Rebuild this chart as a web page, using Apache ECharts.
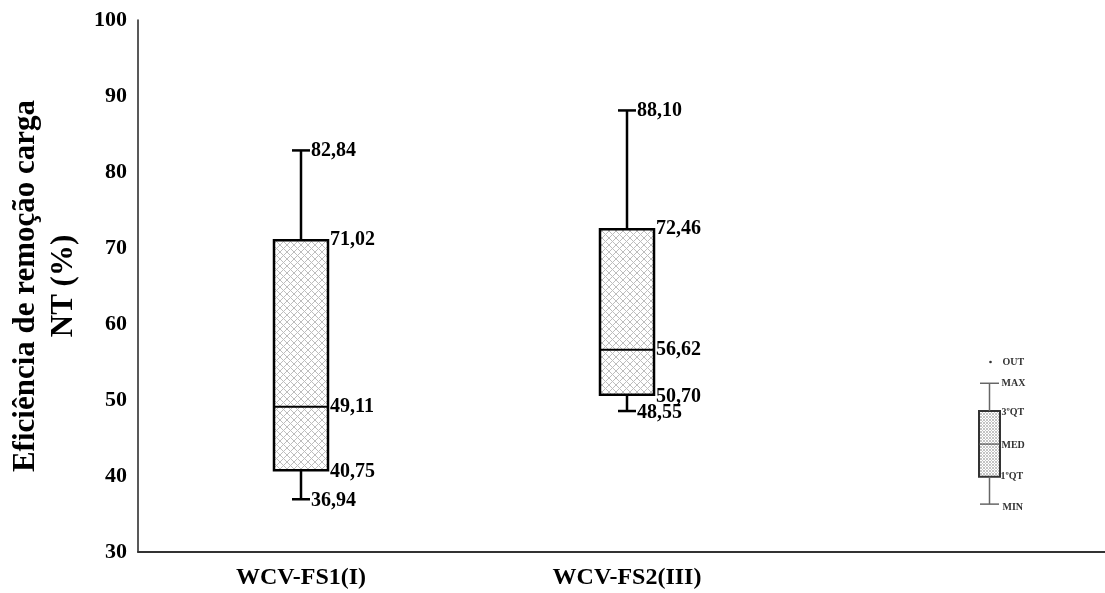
<!DOCTYPE html>
<html>
<head>
<meta charset="utf-8">
<script src="https://cdn.jsdelivr.net/npm/echarts@6/dist/echarts.min.js"></script>
<style>
  html, body { margin: 0; padding: 0; background: #fff; }
  #chart { width: 1105px; height: 593px; }
</style>
</head>
<body>
<div id="chart"></div>
<script>
// Box-plot summaries of the NT load removal efficiency (%)
const categories = ['WCV-FS1(I)', 'WCV-FS2(III)', ''];
const minVals    = [36.94, 48.55];
const q1Vals     = [40.75, 50.70];
const medianVals = [49.11, 56.62];
const q3Vals     = [71.02, 72.46];
const maxVals    = [82.84, 88.10];

const yTicks = [30, 40, 50, 60, 70, 80, 90, 100];
const yAxisTitle = 'Eficiência de remoção carga\nNT (%)';

// Key: a sample box explaining each part of the plot
const keyValues  = [36.3, 39.9, 44.2, 48.55, 52.2];
const keyLabels  = ['MIN', '1ºQT', 'MED', '3ºQT', 'MAX'];
const keyOutlier = 55.0;
const keyOutlierLabel = 'OUT';

const SERIF = '"Liberation Serif", "Times New Roman", serif';

function hatch(size, color) {
  const c = document.createElement('canvas');
  c.width = size; c.height = size;
  const g = c.getContext('2d');
  g.fillStyle = '#fff';
  g.fillRect(0, 0, size, size);
  g.strokeStyle = color;
  g.lineWidth = 1;
  g.beginPath();
  g.moveTo(-1, -1); g.lineTo(size + 1, size + 1);
  g.moveTo(size + 1, -1); g.lineTo(-1, size + 1);
  g.stroke();
  return c;
}
const boxFill = { image: hatch(7, '#bdbdbd'), repeat: 'repeat' };
const keyFill = { image: hatch(3, '#c4c4c4'), repeat: 'repeat' };

const fmt = v => v.toFixed(2).replace('.', ',');

const boxData = categories.slice(0, minVals.length).map((c, i) =>
  [i, minVals[i], q1Vals[i], medianVals[i], q3Vals[i], maxVals[i]]);

function renderBox(params, api) {
  const x = api.value(0);
  const v = [1, 2, 3, 4, 5].map(k => api.value(k));
  const p = v.map(val => api.coord([x, val]));
  const cx = p[0][0];
  const [yMin, yQ1, yMed, yQ3, yMax] = p.map(q => q[1]);
  const bw = 54, cap = 18;
  const line = (x1, y1, x2, y2, w) => ({
    type: 'line', shape: { x1, y1, x2, y2 },
    style: { stroke: '#000', lineWidth: w }
  });
  const label = (txt, lx, ly) => ({
    type: 'text', x: lx, y: ly,
    style: { text: txt, fill: '#000', font: 'bold 20px ' + SERIF, align: 'left', verticalAlign: 'middle' }
  });
  return {
    type: 'group',
    children: [
      { type: 'rect', shape: { x: cx - bw / 2, y: yQ3, width: bw, height: yQ1 - yQ3 },
        style: { fill: boxFill, stroke: '#000', lineWidth: 2.5 } },
      line(cx, yMax, cx, yQ3, 2.5),
      line(cx, yQ1, cx, yMin, 2.5),
      line(cx - cap / 2, yMax, cx + cap / 2, yMax, 2.5),
      line(cx - cap / 2, yMin, cx + cap / 2, yMin, 2.5),
      line(cx - bw / 2, yMed, cx + bw / 2, yMed, 2),
      label(fmt(v[4]), cx + cap / 2 + 1, yMax),
      label(fmt(v[3]), cx + bw / 2 + 2, yQ3),
      label(fmt(v[2]), cx + bw / 2 + 2, yMed),
      label(fmt(v[1]), cx + bw / 2 + 2, yQ1 + 2),
      label(fmt(v[0]), cx + cap / 2 + 1, yMin + 2)
    ]
  };
}

function renderKey(params, api) {
  const v = [1, 2, 3, 4, 5].map(k => api.value(k));
  const p = v.map(val => api.coord([0, val]));
  const cx = p[0][0];
  const [yMin, yQ1, yMed, yQ3, yMax] = p.map(q => q[1]);
  const yOut = api.coord([0, api.value(6)])[1];
  const bw = 21, cap = 19;
  const gray = '#666';
  const line = (x1, y1, x2, y2, w, c) => ({
    type: 'line', shape: { x1, y1, x2, y2 },
    style: { stroke: c || gray, lineWidth: w }
  });
  const label = (txt, lx, ly) => ({
    type: 'text', x: lx, y: ly,
    style: { text: txt, fill: '#333', font: 'bold 10px ' + SERIF, align: 'left', verticalAlign: 'middle' }
  });
  return {
    type: 'group',
    children: [
      { type: 'rect', shape: { x: cx - bw / 2, y: yQ3, width: bw, height: yQ1 - yQ3 },
        style: { fill: keyFill, stroke: '#333', lineWidth: 2 } },
      line(cx, yMax, cx, yQ3, 1.5),
      line(cx, yQ1, cx, yMin, 1.5),
      line(cx - cap / 2, yMax, cx + cap / 2, yMax, 1.5),
      line(cx - cap / 2, yMin, cx + cap / 2, yMin, 1.5),
      line(cx - bw / 2, yMed, cx + bw / 2, yMed, 1.2, '#555'),
      { type: 'circle', shape: { cx: cx + 1, cy: yOut, r: 1.3 }, style: { fill: '#333' } },
      label(keyOutlierLabel, cx + 13, yOut),
      label(keyLabels[4], cx + 12, yMax),
      label(keyLabels[3], cx + 12, yQ3 + 1),
      label(keyLabels[2], cx + 12, yMed + 1),
      label(keyLabels[1], cx + 11, yQ1),
      label(keyLabels[0], cx + 13, yMin + 3)
    ]
  };
}

const chart = echarts.init(document.getElementById('chart'), null, { renderer: 'canvas' });
chart.setOption({
  animation: false,
  backgroundColor: '#fff',
  grid: [
    { left: 138, top: 20, width: 978, bottom: 41, containLabel: false, outerBoundsMode: 'none' },
    { left: 979, top: 20, width: 21, bottom: 41, containLabel: false, outerBoundsMode: 'none' }
  ],
  xAxis: [
    {
      type: 'category', gridIndex: 0, data: categories,
      axisLine: { lineStyle: { color: '#333', width: 2 } },
      axisTick: { show: false },
      axisLabel: { interval: 0, margin: 14, color: '#000', fontFamily: SERIF, fontWeight: 'bold', fontSize: 24 },
      splitLine: { show: false }
    },
    { type: 'category', gridIndex: 1, data: ['key'], show: false }
  ],
  yAxis: [
    {
      type: 'value', gridIndex: 0,
      min: yTicks[0], max: yTicks[yTicks.length - 1], interval: 10,
      name: yAxisTitle, nameLocation: 'middle', nameGap: 52,
      nameTextStyle: { color: '#000', fontFamily: SERIF, fontWeight: 'bold', fontSize: 31, lineHeight: 38, align: 'center' },
      axisLine: { show: true, lineStyle: { color: '#222', width: 1.5 } },
      axisTick: { show: false },
      axisLabel: { margin: 11, color: '#000', fontFamily: SERIF, fontWeight: 'bold', fontSize: 22 },
      splitLine: { show: false }
    },
    { type: 'value', gridIndex: 1, min: yTicks[0], max: yTicks[yTicks.length - 1], show: false }
  ],
  series: [
    {
      type: 'custom', xAxisIndex: 0, yAxisIndex: 0,
      renderItem: renderBox,
      encode: { x: 0, y: [1, 2, 3, 4, 5] },
      data: boxData,
      silent: true
    },
    {
      type: 'custom', xAxisIndex: 1, yAxisIndex: 1,
      renderItem: renderKey,
      encode: { x: 0, y: [1, 2, 3, 4, 5, 6] },
      data: [[0].concat(keyValues, [keyOutlier])],
      silent: true
    }
  ]
});
</script>
</body>
</html>
